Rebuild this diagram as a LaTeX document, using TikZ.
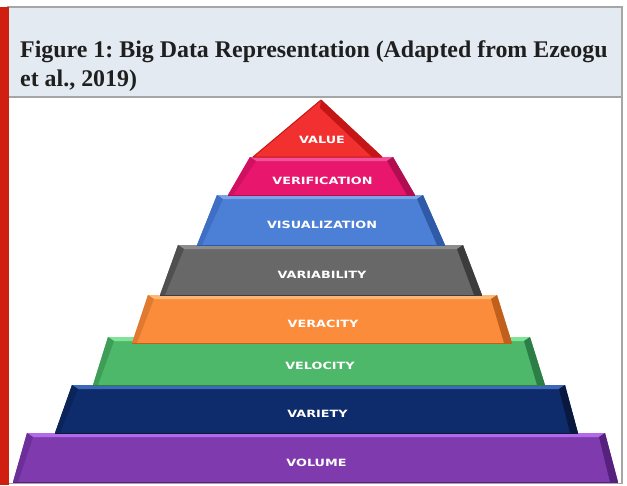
\documentclass[tikz,border=0pt]{standalone}
\usepackage{fontspec}
\newfontfamily\titlefont{Liberation Serif}
\newfontfamily\layerfont{DejaVu Sans}[FakeStretch=1.28]
\frenchspacing
\definecolor{headbg}{HTML}{E4EAF1}
\definecolor{headborder}{HTML}{A6A6A6}
\definecolor{redbar}{HTML}{D01F10}
\definecolor{valmain}{HTML}{F23030}
\definecolor{valdark}{HTML}{C41616}
\definecolor{vermain}{HTML}{E8166C}
\definecolor{vertop}{HTML}{F2509A}
\definecolor{verside}{HTML}{B00E50}
\definecolor{verleft}{HTML}{D01060}
\definecolor{vismain}{HTML}{4C7FD6}
\definecolor{vistop}{HTML}{7BA4E6}
\definecolor{visside}{HTML}{2E5AA8}
\definecolor{visleft}{HTML}{3F6FC4}
\definecolor{vbymain}{HTML}{686868}
\definecolor{vbytop}{HTML}{8C8C8C}
\definecolor{vbyside}{HTML}{3C3C3C}
\definecolor{vbyleft}{HTML}{505050}
\definecolor{vacmain}{HTML}{FA8C3C}
\definecolor{vactop}{HTML}{FCB874}
\definecolor{vacside}{HTML}{C0601C}
\definecolor{vacleft}{HTML}{E07A30}
\definecolor{velmain}{HTML}{4DB86A}
\definecolor{veltop}{HTML}{7FE398}
\definecolor{velside}{HTML}{2D7E46}
\definecolor{velleft}{HTML}{3E9E58}
\definecolor{vtymain}{HTML}{0E2C6C}
\definecolor{vtytop}{HTML}{3D68B8}
\definecolor{vtyside}{HTML}{08183E}
\definecolor{vtyleft}{HTML}{0B245A}
\definecolor{volmain}{HTML}{7F3BAE}
\definecolor{voltop}{HTML}{B26AE6}
\definecolor{volside}{HTML}{55207E}
\definecolor{volleft}{HTML}{6C2E98}
\tikzset{
  layertext/.style={text=white, font=\layerfont\bfseries\fontsize{10}{12}\selectfont, inner sep=0pt},
  titletext/.style={font=\titlefont\bfseries\fontsize{23.9}{27}\selectfont, text=black!88, inner sep=0pt, anchor=base west}
}
% #1 ytop #2 ybot #3 xtl #4 xtr #5 xbl #6 xbr #7 colour prefix #8 node name #9 text
\newcommand\pyrlayer[9]{%
  \fill[#7main] (#3,#1) -- (#4,#1) -- (#6,#2) -- (#5,#2) -- cycle;
  \fill[#7top] (#3,#1) -- (#4,#1) -- ({#4-6},{#1+4}) -- ({#3+6},{#1+4}) -- cycle;
  \fill[#7side] (#4,#1) -- (#6,#2) -- ({#6-8},#2) -- ({#4-6},{#1+4}) -- cycle;
  \fill[#7left] (#3,#1) -- ({#3+6},{#1+4}) -- ({#5+5},#2) -- (#5,#2) -- cycle;
  \draw[#7side, line width=0.6pt] (#5,#2) -- (#6,#2);
  \node[layertext] (#8) at ({(#5+#6)/2+1},{(#1+#2)/2+5}) {#9};
}
\begin{document}
\begin{tikzpicture}[x=1pt,y=-1pt]
\useasboundingbox (0,0) rectangle (627,485);
\fill[white] (0,0) rectangle (627,485);
% frame
\fill[headbg] (8,7) rectangle (622,97);
\draw[headborder, line width=1.2pt] (8,7) rectangle (622,483.5);
\draw[headborder, line width=2pt] (8,97) -- (622,97);
\fill[redbar] (0,7) rectangle (9,485);
\node[titletext] (title1) at (20,57) {Figure 1: Big Data Representation (Adapted from Ezeogu};
\node[titletext] (title2) at (20,86) {et al., 2019)};
% pyramid, bottom to top
\pyrlayer{433}{482}{27}{605}{13}{618}{vol}{volume}{VOLUME}
\pyrlayer{385}{433}{72}{565}{55}{578}{vty}{variety}{VARIETY}
\pyrlayer{337}{385}{108}{530}{93}{545}{vel}{velocity}{VELOCITY}
\pyrlayer{295}{343}{148}{497}{132}{512}{vac}{veracity}{VERACITY}
\pyrlayer{245}{295}{178}{463}{160}{482}{vby}{variability}{VARIABILITY}
\pyrlayer{195}{245}{217}{423}{197}{445}{vis}{visualization}{VISUALIZATION}
\pyrlayer{157}{195}{250}{393}{228}{415}{ver}{verification}{VERIFICATION}
% value triangle
\fill[valmain] (321,100) -- (382,157) -- (253,157) -- cycle;
\fill[valdark] (321,100) -- (382,157) -- (372,157) -- (320,108) -- cycle;
\draw[valdark, line width=1pt, line join=round] (321,100) -- (382,157) -- (253,157) -- cycle;
\node[layertext] (value) at (322,140) {VALUE};
\end{tikzpicture}
\end{document}
